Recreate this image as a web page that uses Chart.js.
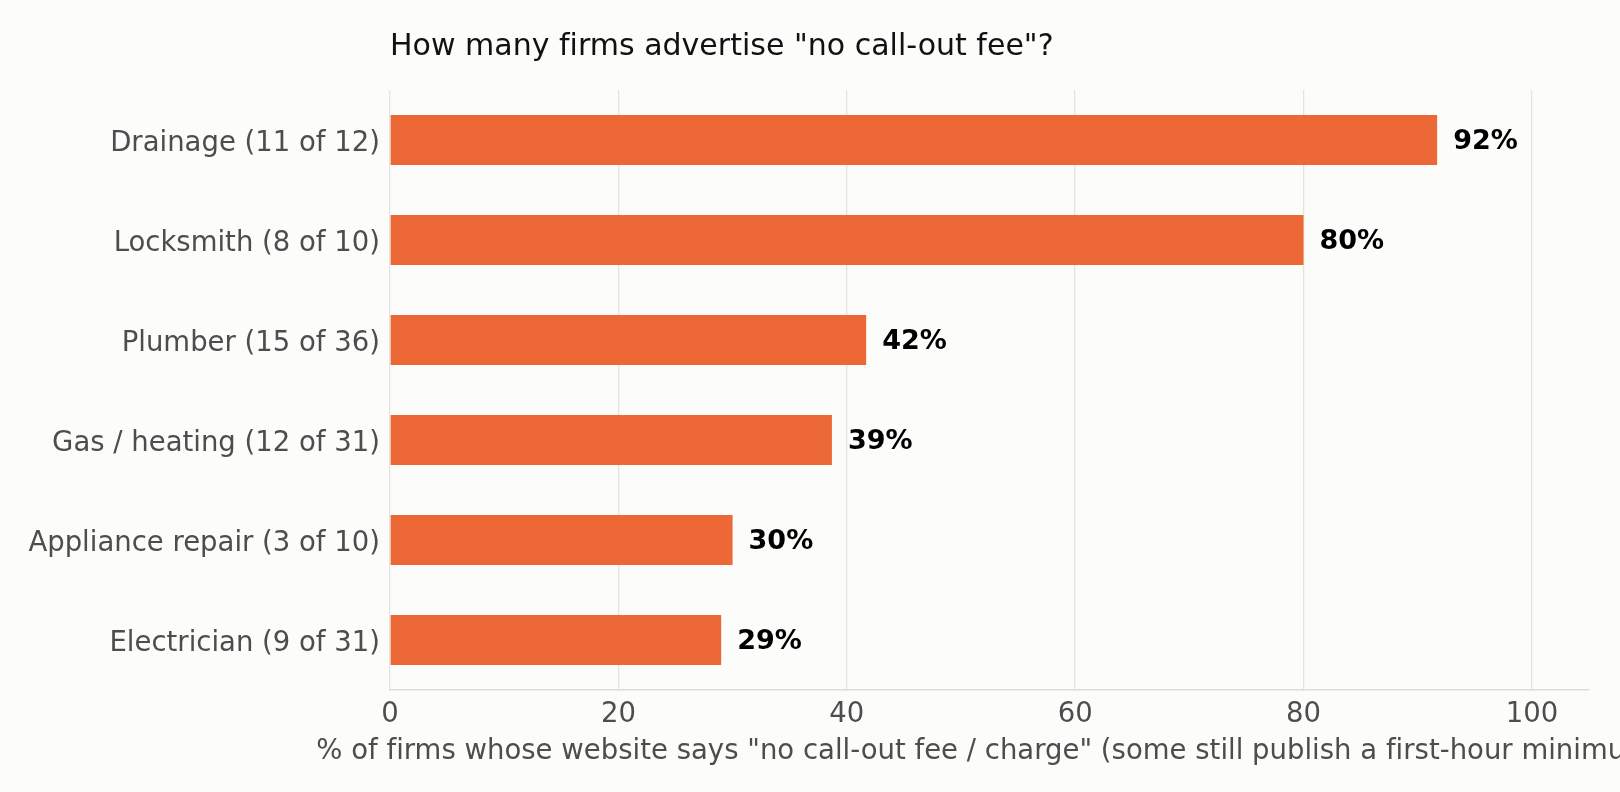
<!DOCTYPE html>
<html>
<head>
<meta charset="utf-8">
<script src="https://cdn.jsdelivr.net/npm/chart.js@4.4.1/dist/chart.umd.min.js"></script>
<style>
  html, body { margin: 0; padding: 0; background: #fcfcfa; }
  #wrap { width: 1620px; height: 792px; position: relative; }
</style>
</head>
<body>
<div id="wrap"><canvas id="myBarChart"></canvas></div>
<script>
// Data for the chart
var categories = [
  "Drainage (11 of 12)",
  "Locksmith (8 of 10)",
  "Plumber (15 of 36)",
  "Gas / heating (12 of 31)",
  "Appliance repair (3 of 10)",
  "Electrician (9 of 31)"
];
var shares = [91.7, 80, 41.7, 38.7, 30, 29.0];
var shareLabels = ["92%", "80%", "42%", "39%", "30%", "29%"];
var xTicks = [0, 20, 40, 60, 80, 100];

var FONT = "'DejaVu Sans', sans-serif";
var xTitle = '% of firms whose website says "no call-out fee / charge" (some still publish a first-hour minimum)';

// title, x axis title (not squeezed to the axis width) and value labels
var extras = {
  id: "extras",
  afterDraw: function (chart) {
    var ctx = chart.ctx;
    var area = chart.chartArea;
    ctx.save();
    ctx.textBaseline = "middle";
    // tiny spacing keeps "fi" from turning into a ligature
    if ("letterSpacing" in ctx) ctx.letterSpacing = "0.01px";

    ctx.fillStyle = "#111111";
    ctx.font = "30px " + FONT;
    ctx.textAlign = "left";
    ctx.fillText('How many firms advertise "no call-out fee"?', area.left, 47.5);

    ctx.fillStyle = "#4d4d4d";
    ctx.font = "27.5px " + FONT;
    ctx.textAlign = "center";
    ctx.fillText(xTitle, (area.left + area.right) / 2, 752);

    var meta = chart.getDatasetMeta(0);
    ctx.font = "bold 27px " + FONT;
    ctx.fillStyle = "#000000";
    ctx.textAlign = "left";
    meta.data.forEach(function (bar, i) {
      ctx.fillText(shareLabels[i], bar.x + 16, bar.y + 1.5);
    });
    ctx.restore();
  }
};

var ctx = document.getElementById("myBarChart");

var myBarChart = new Chart(ctx, {
  type: "bar",
  data: {
    labels: categories,
    datasets: [
      {
        label: "Share",
        data: shares,
        backgroundColor: "#ec6836",
        borderWidth: 0,
        barPercentage: 0.5,
        categoryPercentage: 1.0
      }
    ]
  },
  options: {
    indexAxis: "y",
    responsive: true,
    maintainAspectRatio: false,
    animation: false,
    layout: { padding: { top: 90, right: 31, bottom: 0, left: 0 } },
    plugins: {
      legend: { display: false },
      tooltip: { enabled: false },
      title: { display: false }
    },
    scales: {
      x: {
        min: 0,
        max: 105,
        afterBuildTicks: function (scale) {
          scale.ticks = xTicks.map(function (v) { return { value: v }; });
        },
        afterFit: function (scale) { scale.height = 102; },
        grid: { color: "#e4e4e2", lineWidth: 1.3, drawTicks: false },
        border: { display: true, color: "#dcdcda", width: 1.5 },
        ticks: {
          padding: 8,
          color: "#4d4d4d",
          font: { family: FONT, size: 27.5 }
        }
      },
      y: {
        afterFit: function (scale) { scale.width = 390; },
        grid: { display: false, drawTicks: false },
        border: { display: false },
        ticks: {
          padding: 10,
          labelOffset: 4,
          color: "#4d4d4d",
          font: { family: FONT, size: 27.5 }
        }
      }
    }
  },
  plugins: [extras]
});
</script>
</body>
</html>
